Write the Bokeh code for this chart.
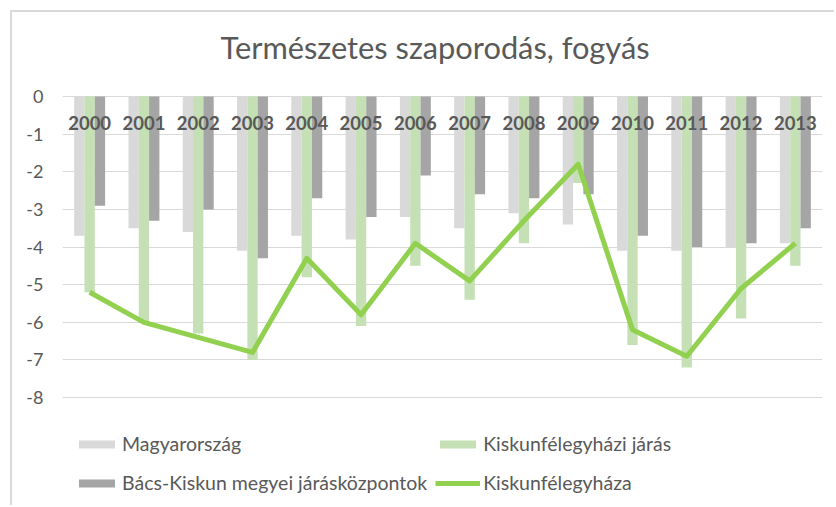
from bokeh.plotting import figure
from bokeh.models import (ColumnDataSource, FactorRange, Range1d, FixedTicker,
                          Legend, LegendItem)
from bokeh.transform import dodge
from bokeh.embed import file_html
from bokeh.resources import INLINE

years = ["2000", "2001", "2002", "2003", "2004", "2005", "2006",
         "2007", "2008", "2009", "2010", "2011", "2012", "2013"]
magyarorszag = [-3.7, -3.5, -3.6, -4.1, -3.7, -3.8, -3.2,
                -3.5, -3.1, -3.4, -4.1, -4.1, -4.0, -3.9]
jaras = [-5.2, -6.0, -6.3, -7.0, -4.8, -6.1, -4.5,
         -5.4, -3.9, -2.3, -6.6, -7.2, -5.9, -4.5]
bacs_kiskun = [-2.9, -3.3, -3.0, -4.3, -2.7, -3.2, -2.1,
               -2.6, -2.7, -2.6, -3.7, -4.0, -3.9, -3.5]
kiskunfelegyhaza = [-5.2, -6.0, -6.4, -6.8, -4.3, -5.8, -3.9,
                    -4.9, -3.3, -1.8, -6.2, -6.9, -5.1, -3.9]
y_ticks = [0, -1, -2, -3, -4, -5, -6, -7, -8]

title = "Természetes szaporodás, fogyás"
names = ["Magyarország", "Kiskunfélegyházi járás",
         "Bács-Kiskun megyei járásközpontok", "Kiskunfélegyháza"]

src = ColumnDataSource(dict(year=years, m=magyarorszag, j=jaras,
                            b=bacs_kiskun, k=kiskunfelegyhaza,
                            zero=[0] * len(years)))

FONT = "Lato"
TXT = "#595959"

# frame spans from just above the 0 line down to the bottom of the figure;
# the legend sits inside the frame below the -8 gridline
p = figure(x_range=FactorRange(*years), y_range=Range1d(-10.92, 0.452),
           width=824, height=495, output_backend="svg", toolbar_location=None,
           min_border_left=50, min_border_right=14, min_border_top=67,
           min_border_bottom=0, title=title)
p.styles = {"border-top": "2px solid #d9d9d9",
            "border-left": "2px solid #d9d9d9",
            "margin-top": "10px", "margin-left": "10px"}
p.outline_line_color = None
p.background_fill_color = "white"
p.border_fill_color = "white"

p.title.text_font = FONT
p.title.text_font_size = "30.8px"
p.title.text_font_style = "normal"
p.title.text_color = TXT
p.title.align = "left"
p.title.offset = 158
p.title.standoff = 28

w = 0.19
r1 = p.vbar(x=dodge("year", -w, range=p.x_range), top="m", bottom=0, width=w,
            source=src, fill_color="#d9d9d9", line_color=None)
r2 = p.vbar(x=dodge("year", 0, range=p.x_range), top="j", bottom=0, width=w,
            source=src, fill_color="#c5e0b4", line_color=None)
r3 = p.vbar(x=dodge("year", w, range=p.x_range), top="b", bottom=0, width=w,
            source=src, fill_color="#a5a5a5", line_color=None)
r4 = p.line(x="year", y="k", source=src, line_color="#92d050", line_width=5,
            line_join="round")

# category labels just under the 0 line
p.text(x="year", y="zero", text="year", source=src, text_align="center",
       text_baseline="top", y_offset=19, text_font_size="18.5px",
       text_font_style="bold", text_color=TXT, text_font={"value": FONT})

p.xaxis.visible = False
p.xgrid.grid_line_color = None

p.yaxis.ticker = FixedTicker(ticks=y_ticks)
p.yaxis.major_label_overrides = {t: str(t) for t in y_ticks}
p.yaxis.axis_line_color = None
p.yaxis.major_tick_line_color = None
p.yaxis.minor_tick_line_color = None
p.yaxis.major_tick_out = 0
p.yaxis.major_tick_in = 0
p.yaxis.major_label_text_font = FONT
p.yaxis.major_label_text_font_size = "18px"
p.yaxis.major_label_text_color = TXT
p.yaxis.major_label_standoff = 19
p.ygrid.ticker = FixedTicker(ticks=y_ticks)
p.ygrid.grid_line_color = "#d9d9d9"
p.ygrid.grid_line_width = 1

legend = Legend(items=[LegendItem(label=names[0], renderers=[r1]),
                       LegendItem(label=names[1], renderers=[r2]),
                       LegendItem(label=names[2], renderers=[r3]),
                       LegendItem(label=names[3], renderers=[r4])],
                orientation="horizontal", ncols=2, location=(12, 9))
legend.border_line_color = None
legend.background_fill_alpha = 0
legend.label_text_font = FONT
legend.label_text_font_size = "19.5px"
legend.label_text_color = TXT
legend.glyph_width = 45
legend.glyph_height = 10
legend.label_height = 31
legend.label_standoff = 3
legend.spacing = 8
legend.margin = 0
legend.padding = 0
p.add_layout(legend)

open("out.html", "w").write(file_html(p, INLINE))
